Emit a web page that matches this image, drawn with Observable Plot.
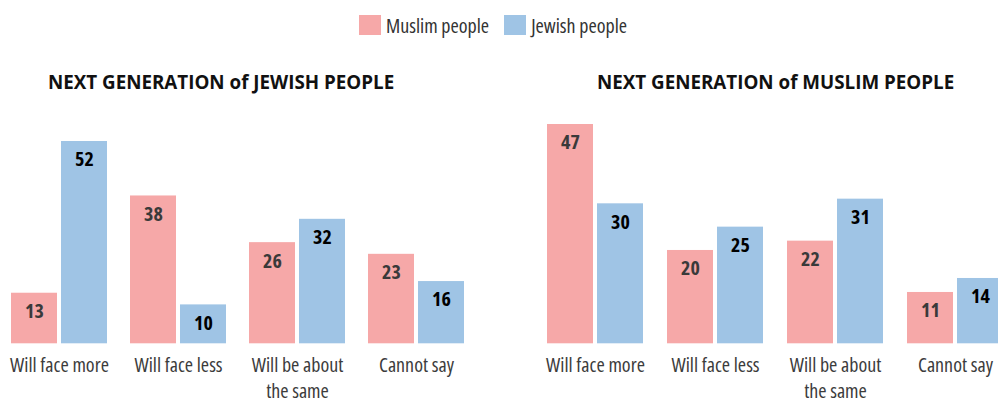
<!DOCTYPE html>
<html>
<head>
<meta charset="utf-8">
<script src="https://cdn.jsdelivr.net/npm/d3@7"></script>
<script src="https://cdn.jsdelivr.net/npm/@observablehq/plot@0.6"></script>
<style>
  html, body { margin: 0; padding: 0; background: #fff; }
  #root { position: relative; width: 998px; height: 402px; overflow: hidden; background: #fff; }
  .narrow { font-family: "Open Sans", sans-serif; font-stretch: 75%; }
  .legend { position: absolute; top: 12px; left: 359px; height: 26px; display: flex; align-items: center; color: #333; font-size: 20px; }
  .sw { width: 22px; height: 20px; display: inline-block; margin-right: 5px; }
  .title { position: absolute; top: 69px; font-family: "Open Sans", sans-serif; font-weight: 700; font-size: 18.8px; color: #111; white-space: nowrap; line-height: 26px; }
  .panel { position: absolute; top: 50px; }
  .panel svg { max-width: none !important; display: block; }
</style>
</head>
<body>
<div id="root">
  <div class="legend narrow">
    <span class="sw" style="background:#F6A8A8"></span><span style="margin-right:15px">Muslim people</span>
    <span class="sw" style="background:#9FC4E5"></span><span>Jewish people</span>
  </div>
  <div class="title" style="left:48px">NEXT GENERATION of JEWISH PEOPLE</div>
  <div class="title" style="left:597px">NEXT GENERATION of MUSLIM PEOPLE</div>
  <div id="left" class="panel" style="left:0px; width:499px"></div>
  <div id="right" class="panel" style="left:499px; width:510px"></div>
</div>
<script>
const categories = ["Will face more", "Will face less", "Will be about the same", "Cannot say"];
const categoryLabels = ["Will face more", "Will face less", "Will be about\nthe same", "Cannot say"];
const series = ["Muslim people", "Jewish people"];
const colors = ["#F6A8A8", "#9FC4E5"];

// Panel 1: NEXT GENERATION of JEWISH PEOPLE
const jewishGenMuslim = [13, 38, 26, 23];
const jewishGenJewish = [52, 10, 32, 16];
// Panel 2: NEXT GENERATION of MUSLIM PEOPLE
const muslimGenMuslim = [47, 20, 22, 11];
const muslimGenJewish = [30, 25, 31, 14];

function rowsOf(m, j) {
  const rows = [];
  categories.forEach((c, i) => {
    rows.push({category: c, series: series[0], value: m[i]});
    rows.push({category: c, series: series[1], value: j[i]});
  });
  return rows;
}

function panel(rows, opts) {
  const maxV = d3.max(rows, d => d.value);
  return Plot.plot({
    width: opts.width,
    height: 352,
    marginLeft: opts.marginLeft,
    marginRight: opts.marginRight,
    marginTop: opts.marginTop,
    marginBottom: 58.7,
    style: {fontFamily: '"Open Sans", sans-serif', fontStretch: "75%", background: "transparent", maxWidth: "none"},
    fx: {domain: categories, paddingInner: opts.pad, paddingOuter: 0, label: null},
    x: {domain: series, paddingInner: 0.08, paddingOuter: 0, axis: null},
    y: {domain: [0, maxV], axis: null},
    color: {domain: series, range: colors},
    marks: [
      Plot.barY(rows, {fx: "category", x: "series", y: "value", fill: "series"}),
      Plot.text(rows.filter(d => d.series === series[0]), {
        fx: "category", x: "series", y: "value", text: d => String(d.value),
        dy: 18.5, fill: "#3a3a3a", fontWeight: "bold", fontSize: 20
      }),
      Plot.text(rows.filter(d => d.series === series[1]), {
        fx: "category", x: "series", y: "value", text: d => String(d.value),
        dy: 18.5, fill: "#000", fontWeight: "bold", fontSize: 20
      }),
      Plot.axisFx({
        anchor: "bottom", tickSize: 0, tickPadding: 10, label: null,
        tickFormat: d => categoryLabels[categories.indexOf(d)],
        fontSize: 20, lineHeight: 1.3, color: "#3c3c3c"
      })
    ]
  });
}

document.getElementById("left").append(
  panel(rowsOf(jewishGenMuslim, jewishGenJewish), {width: 499, marginLeft: 10, marginRight: 35, marginTop: 91, pad: 0.196})
);
document.getElementById("right").append(
  panel(rowsOf(muslimGenMuslim, muslimGenJewish), {width: 510, marginLeft: 47, marginRight: 6, marginTop: 74, pad: 0.202})
);
</script>
</body>
</html>
